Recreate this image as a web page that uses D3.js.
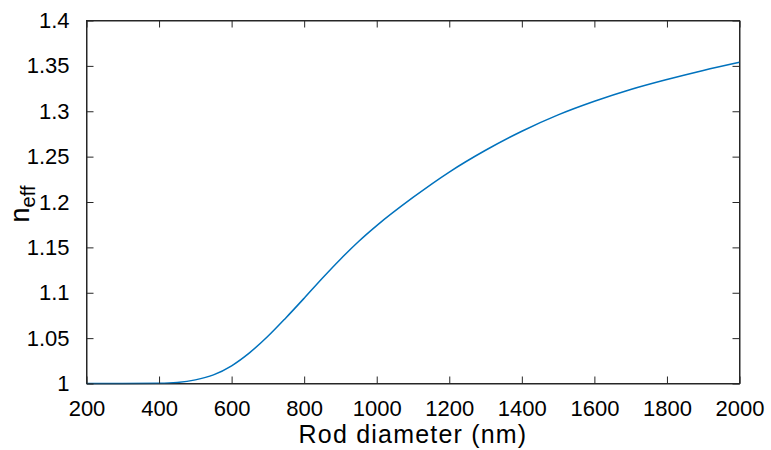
<!DOCTYPE html>
<html><head><meta charset="utf-8">
<script src="https://cdn.jsdelivr.net/npm/d3@7"></script>
<style>body{margin:0;background:#fff}svg{display:block}text{font-family:"Liberation Sans",Arial,Helvetica,sans-serif;fill:#000}</style>
</head><body>
<svg id="c" width="771" height="450"></svg>
<script>
const diameters = [200,300,400,450,500,550,600,650,700,750,800,850,900,950,1000,1100,1200,1300,1400,1500,1600,1700,1800,1900,2000];
const neff = [1.0000,1.0000,1.0003,1.0012,1.0040,1.0095,1.0195,1.0340,1.0520,1.0725,1.0940,1.1160,1.1370,1.1565,1.1740,1.2050,1.2330,1.2570,1.2780,1.2960,1.3110,1.3240,1.3350,1.3450,1.3540];
const xTicks = [200,400,600,800,1000,1200,1400,1600,1800,2000];
const yTicks = [1,1.05,1.1,1.15,1.2,1.25,1.3,1.35,1.4];
const yTickLabels = ["1","1.05","1.1","1.15","1.2","1.25","1.3","1.35","1.4"];

(function(){
const L=86.5,R=739.5,T=20.5,B=383.5;
const svg=d3.select("#c");
const x=d3.scaleLinear().domain([200,2000]).range([L,R]);
const y=d3.scaleLinear().domain([1,1.4]).range([B,T]);
const axisCol="#262626";

svg.append("rect").attr("x",L).attr("y",T).attr("width",R-L).attr("height",B-T)
  .attr("fill","none").attr("stroke",axisCol).attr("stroke-width",1);

const line=d3.line().x((d,i)=>x(diameters[i])).y(d=>y(d)).curve(d3.curveMonotoneX);
svg.append("path").datum(neff).attr("d",line).attr("fill","none")
  .attr("stroke","#0072BD").attr("stroke-width",1.5);

const fmtY=(d)=>yTickLabels[yTicks.indexOf(d)];
const gB=svg.append("g").attr("transform",`translate(0,${B})`)
  .call(d3.axisBottom(x).tickValues(xTicks).tickSizeInner(-7).tickSizeOuter(0).tickPadding(17).tickFormat(d3.format("d")));
const gT=svg.append("g").attr("transform",`translate(0,${T})`)
  .call(d3.axisTop(x).tickValues(xTicks).tickSizeInner(-7).tickSizeOuter(0).tickFormat(""));
const gL=svg.append("g").attr("transform",`translate(${L},0)`)
  .call(d3.axisLeft(y).tickValues(yTicks).tickSizeInner(-7).tickSizeOuter(0).tickPadding(17).tickFormat(fmtY));
const gR=svg.append("g").attr("transform",`translate(${R},0)`)
  .call(d3.axisRight(y).tickValues(yTicks).tickSizeInner(-7).tickSizeOuter(0).tickFormat(""));
[gB,gT,gL,gR].forEach(g=>{
  g.select(".domain").attr("stroke",axisCol);
  g.selectAll(".tick line").attr("stroke",axisCol);
  g.selectAll(".tick text").attr("font-size",22).attr("fill","#000").style("font-family",'"Liberation Sans",Arial,sans-serif');
});

svg.append("text").attr("x",(L+R)/2).attr("y",443).attr("text-anchor","middle")
  .attr("font-size",25).attr("letter-spacing","1.2px").text("Rod diameter (nm)");

const yl=svg.append("text").attr("transform",`translate(29,${(T+B)/2+2}) rotate(-90)`).attr("text-anchor","middle").attr("font-size",27);
yl.append("tspan").text("n");
yl.append("tspan").attr("font-size",20).attr("dy",6).text("eff");
})();
</script>
</body></html>
